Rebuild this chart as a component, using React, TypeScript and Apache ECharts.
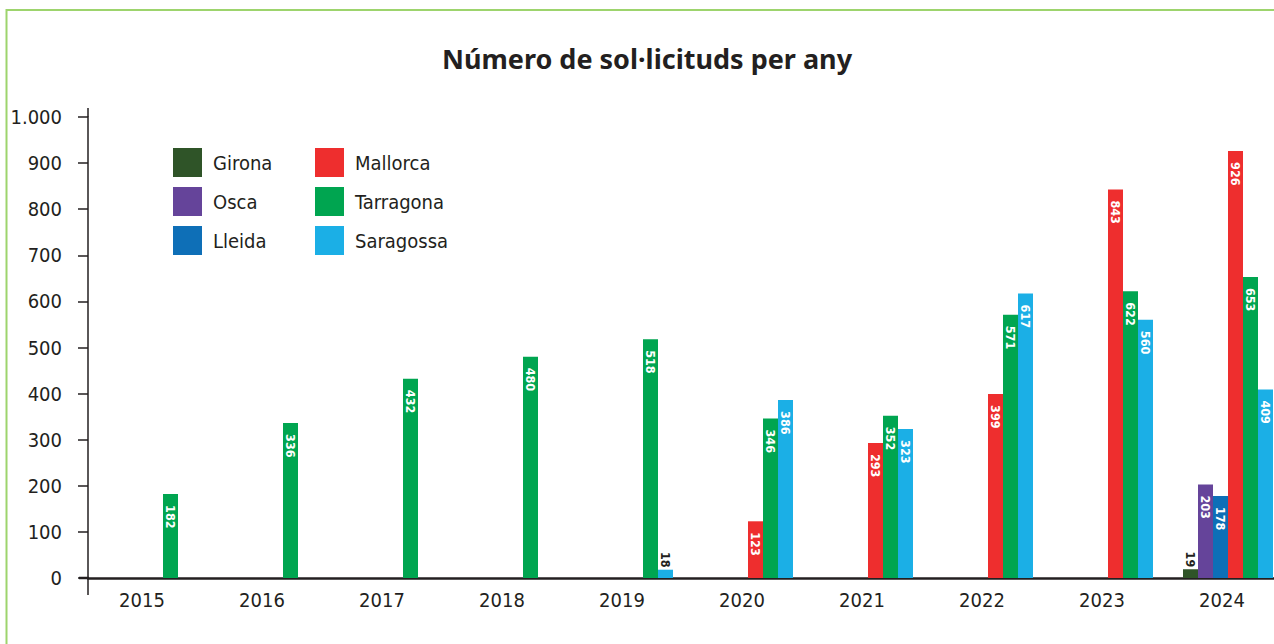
import React, { useEffect, useRef } from "react";
import * as echarts from "echarts";

const years = ["2015", "2016", "2017", "2018", "2019", "2020", "2021", "2022", "2023", "2024"];
const seriesNames = ["Girona", "Osca", "Lleida", "Mallorca", "Tarragona", "Saragossa"];
const colors = ["#2f5428", "#65449a", "#0e6fb7", "#ee2e2e", "#00a550", "#1bafe6"];
const girona = [null, null, null, null, null, null, null, null, null, 19];
const osca = [null, null, null, null, null, null, null, null, null, 203];
const lleida = [null, null, null, null, null, null, null, null, null, 178];
const mallorca = [null, null, null, null, null, 123, 293, 399, 843, 926];
const tarragona = [182, 336, 432, 480, 518, 346, 352, 571, 622, 653];
const saragossa = [null, null, null, null, 18, 386, 323, 617, 560, 409];
const yTicks = [0, 100, 200, 300, 400, 500, 600, 700, 800, 900, 1000];

const FONT = "'DejaVu Sans Condensed', sans-serif";
const TEXT = "#231f20";

export default function App() {
  const ref = useRef<HTMLDivElement>(null);
  useEffect(() => {
    if (!ref.current) return;
    const chart = echarts.init(ref.current, undefined, { renderer: "svg" });
    const all = [girona, osca, lleida, mallorca, tarragona, saragossa];
    const series = all.map((arr, i) => ({
      name: seriesNames[i],
      type: "bar",
      barWidth: 15,
      barGap: "0%",
      itemStyle: { color: colors[i] },
      data: arr.map((v) =>
        v == null
          ? null
          : v < 60
          ? {
              value: v,
              label: {
                show: true,
                position: "top",
                rotate: -90,
                align: "right",
                verticalAlign: "middle",
                distance: 2,
                color: TEXT,
                fontFamily: FONT,
                fontSize: 12.5,
                fontWeight: "bold",
              },
            }
          : { value: v }
      ),
      label: {
        show: true,
        position: "insideTop",
        rotate: -90,
        align: "left",
        verticalAlign: "middle",
        distance: 11,
        color: "#ffffff",
        fontFamily: FONT,
        fontSize: 12.5,
        fontWeight: "bold",
      },
    }));
    chart.setOption({
      animation: false,
      backgroundColor: "#ffffff",
      title: {
        text: "Número de sol·licituds per any",
        left: 642,
        textAlign: "center",
        top: 40,
        textStyle: { fontFamily: "'Noto Sans', sans-serif", fontSize: 27, fontWeight: "bold", color: TEXT },
      },
      legend: [
        {
          data: seriesNames.slice(0, 3),
          orient: "vertical",
          left: 173,
          top: 148,
          padding: 0,
          itemWidth: 29,
          itemHeight: 29,
          itemGap: 10,
          icon: "rect",
          textStyle: { fontFamily: FONT, fontSize: 20, color: TEXT, padding: [0, 0, 0, 6] },
        },
        {
          data: seriesNames.slice(3),
          orient: "vertical",
          left: 315,
          top: 148,
          padding: 0,
          itemWidth: 29,
          itemHeight: 29,
          itemGap: 10,
          icon: "rect",
          textStyle: { fontFamily: FONT, fontSize: 20, color: TEXT, padding: [0, 0, 0, 6] },
        },
      ],
      grid: { left: 88, top: 117, width: 1200, bottom: 66, containLabel: false },
      xAxis: {
        type: "category",
        data: years,
        axisLine: { lineStyle: { color: TEXT, width: 2.5 } },
        axisTick: { show: true, interval: (i: number) => i === 0, length: 17, lineStyle: { color: TEXT, width: 1.5 } },
        axisLabel: { fontFamily: FONT, fontSize: 20, color: TEXT, margin: 12, padding: [0, 12, 0, 0] },
      },
      yAxis: {
        type: "value",
        min: yTicks[0],
        max: yTicks[yTicks.length - 1],
        interval: 100,
        splitLine: { show: false },
        axisLine: { show: true, lineStyle: { color: TEXT, width: 1.5 } },
        axisTick: { show: true, length: 10, lineStyle: { color: TEXT, width: 1.5 } },
        axisLabel: {
          fontFamily: FONT,
          fontSize: 20,
          color: TEXT,
          margin: 26,
          formatter: (v: number) => (v >= 1000 ? v.toLocaleString("de-DE") : String(v)),
        },
      },
      graphic: [
        {
          type: "rect",
          shape: { x: 6.5, y: 10, width: 1400, height: 800 },
          style: { fill: "none", stroke: "#9dd46d", lineWidth: 2 },
          silent: true,
        },
        {
          type: "line",
          shape: { x1: 88, y1: 108, x2: 88, y2: 117 },
          style: { stroke: TEXT, lineWidth: 1.5 },
          silent: true,
        },
        {
          type: "line",
          shape: { x1: 79, y1: 578, x2: 89, y2: 578 },
          style: { stroke: TEXT, lineWidth: 2.5 },
          silent: true,
        },
      ],
      series,
    });
    return () => chart.dispose();
  }, []);
  return (
    <div style={{ position: "absolute", left: 0, top: 0, width: 1274, height: 644, overflow: "hidden" }}>
      <div ref={ref} style={{ width: 1310, height: 644 }} />
    </div>
  );
}
